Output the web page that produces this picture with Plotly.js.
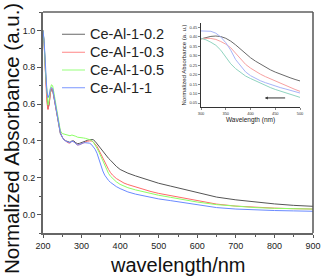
<!DOCTYPE html>
<html><head><meta charset="utf-8">
<script src="https://cdn.plot.ly/plotly-3.0.1.min.js"></script>
<style>html,body{margin:0;padding:0;background:#fff}#c{width:322px;height:277px}</style>
</head><body><div id="c"></div>
<script>
const seriesNames = ["Ce-Al-1-0.2","Ce-Al-1-0.3","Ce-Al-1-0.5","Ce-Al-1-1"];
const wavelength = [200,203,207,210,213,216,219,222,225,228,232,236,240,245,250,255,260,265,270,275,280,285,290,295,300,305,310,315,320,325,330,335,340,345,350,355,360,365,370,375,380,390,400,410,420,440,460,480,500,530,560,600,650,700,750,800,850,900];
const absGray = [1.0,0.93,0.75,0.62,0.575,0.60,0.66,0.68,0.675,0.64,0.59,0.54,0.49,0.44,0.42,0.405,0.40,0.395,0.392,0.40,0.40,0.39,0.385,0.387,0.39,0.395,0.40,0.403,0.407,0.408,0.407,0.398,0.385,0.37,0.355,0.34,0.328,0.315,0.305,0.295,0.283,0.262,0.245,0.233,0.225,0.21,0.196,0.185,0.17,0.155,0.14,0.118,0.095,0.08,0.068,0.058,0.05,0.045];
const absRed = [1.0,0.92,0.74,0.61,0.57,0.60,0.66,0.685,0.68,0.645,0.595,0.545,0.495,0.445,0.42,0.405,0.397,0.39,0.388,0.398,0.395,0.385,0.378,0.38,0.385,0.39,0.395,0.398,0.40,0.40,0.395,0.385,0.37,0.35,0.327,0.305,0.283,0.263,0.245,0.228,0.215,0.196,0.182,0.171,0.163,0.15,0.136,0.125,0.115,0.103,0.09,0.075,0.057,0.046,0.039,0.035,0.032,0.03];
const absGreen = [1.0,0.93,0.76,0.64,0.595,0.625,0.685,0.705,0.70,0.665,0.61,0.555,0.50,0.455,0.44,0.437,0.435,0.43,0.428,0.432,0.43,0.425,0.42,0.42,0.418,0.416,0.414,0.41,0.408,0.404,0.395,0.38,0.36,0.34,0.315,0.288,0.263,0.242,0.223,0.208,0.196,0.178,0.164,0.154,0.146,0.134,0.124,0.114,0.105,0.094,0.082,0.068,0.054,0.044,0.038,0.034,0.031,0.03];
const absBlue = [1.0,0.94,0.79,0.67,0.635,0.65,0.68,0.69,0.685,0.65,0.60,0.545,0.495,0.445,0.42,0.405,0.398,0.392,0.39,0.398,0.395,0.385,0.378,0.38,0.385,0.39,0.39,0.39,0.388,0.382,0.37,0.355,0.333,0.30,0.265,0.237,0.214,0.197,0.185,0.175,0.166,0.152,0.141,0.131,0.123,0.111,0.101,0.092,0.085,0.076,0.066,0.052,0.038,0.03,0.025,0.022,0.02,0.018];
const mainColors = ["#555555","#ff6a6a","#8cff66","#6a8aff"];
const legendColors = ["#808080","#ff9a9a","#a8ff90","#90a8ff"];

const insetWavelength = [300,310,320,330,340,350,360,370,380,390,400,410,420,430,440,450,460,470,480,490,500];
const insetGray = [0.39,0.398,0.403,0.405,0.402,0.393,0.378,0.358,0.335,0.31,0.29,0.272,0.256,0.24,0.226,0.214,0.203,0.193,0.184,0.175,0.167];
const insetRed = [0.39,0.393,0.392,0.387,0.376,0.362,0.343,0.315,0.285,0.255,0.235,0.218,0.203,0.19,0.178,0.166,0.155,0.144,0.133,0.122,0.112];
const insetBlue = [0.432,0.432,0.43,0.42,0.40,0.37,0.33,0.28,0.245,0.215,0.195,0.18,0.168,0.158,0.148,0.14,0.132,0.125,0.118,0.11,0.103];
const insetTeal = [0.393,0.385,0.372,0.356,0.33,0.295,0.258,0.232,0.212,0.193,0.18,0.167,0.155,0.142,0.132,0.122,0.113,0.105,0.097,0.088,0.08];
const insetColors = ["#6a6a6a","#f7a0a0","#a8b4f8","#90d4c0"];
const arrowFrom = [473, 0.077];
const arrowTo = [429, 0.077];

const mainSeries = [absGray, absRed, absGreen, absBlue];
const insetSeries = [insetGray, insetRed, insetBlue, insetTeal];

const traces = [];
mainSeries.forEach((s,i)=>traces.push({x:wavelength,y:s,type:'scatter',mode:'lines',line:{color:mainColors[i],width:1,shape:'linear'},name:seriesNames[i],showlegend:false,xaxis:'x',yaxis:'y'}));
insetSeries.forEach((s,i)=>traces.push({x:insetWavelength,y:s,type:'scatter',mode:'lines',line:{color:insetColors[i],width:1,shape:'linear'},showlegend:false,xaxis:'x2',yaxis:'y2'}));

const F = '"Liberation Sans", Arial, sans-serif';
const L=43,R=313,T=12,B=233;
const px=(x)=>(x-L)/(R-L), py=(y)=>(B-y)/(B-T);

const shapes = [
  {type:'line',xref:'paper',yref:'paper',x0:0,x1:1,y0:1,y1:1,line:{color:'#111',width:1}},
  {type:'line',xref:'paper',yref:'paper',x0:1,x1:1,y0:0,y1:1,line:{color:'#555',width:1.5}}
];
const annotations = [];
const legRows=[34.3,52.3,70,87.7];
seriesNames.forEach((n,i)=>{
  shapes.push({type:'line',xref:'paper',yref:'paper',x0:px(62),x1:px(85),y0:py(legRows[i]),y1:py(legRows[i]),line:{color:legendColors[i],width:1.2}});
  annotations.push({xref:'paper',yref:'paper',x:px(88),y:py(legRows[i]),text:n,showarrow:false,xanchor:'left',yanchor:'middle',font:{family:F,size:14.5,color:'#222'}});
});
annotations.push({xref:'paper',yref:'paper',x:px(11),y:py(139),text:'Normalized Absorbance (a.u.)',textangle:-90,showarrow:false,xanchor:'center',yanchor:'middle',font:{family:F,size:20.5,color:'#111'}});
annotations.push({xref:'paper',yref:'paper',x:px(178),y:py(265),text:'wavelength/nm',showarrow:false,xanchor:'center',yanchor:'middle',font:{family:F,size:20,color:'#111'}});
annotations.push({xref:'x2',yref:'y2',x:arrowTo[0],y:arrowTo[1],ax:arrowFrom[0],ay:arrowFrom[1],axref:'x2',ayref:'y2',showarrow:true,arrowhead:2,arrowsize:0.6,arrowwidth:1,arrowcolor:'#333',text:''});

const layout = {
  width:322,height:277,margin:{l:L,r:322-R,t:T,b:277-B},
  paper_bgcolor:'#fff',plot_bgcolor:'#fff',showlegend:false,
  xaxis:{range:[200,900],tickvals:[200,300,400,500,600,700,800,900],showgrid:false,zeroline:false,showline:true,linecolor:'#666',linewidth:2,ticks:'outside',ticklen:3,tickwidth:1,tickcolor:'#555',
    minor:{ticks:'outside',ticklen:2,tickwidth:1,tickcolor:'#555',dtick:50,tick0:0},
    tickfont:{family:F,size:9,color:'#222'}},
  yaxis:{range:[-0.1,1.1],tickvals:[0,0.2,0.4,0.6,0.8,1.0],ticktext:['0.0','0.2','0.4','0.6','0.8','1.0'],showgrid:false,zeroline:false,showline:true,linecolor:'#666',linewidth:2,ticks:'outside',ticklen:4,tickwidth:1,tickcolor:'#555',
    minor:{ticks:'outside',ticklen:2,tickwidth:1,tickcolor:'#555',dtick:0.1,tick0:0},
    tickfont:{family:F,size:9,color:'#222'}},
  xaxis2:{domain:[px(201),px(300)],anchor:'y2',range:[300,500],tickvals:[300,350,400,450,500],showgrid:false,zeroline:false,showline:true,linecolor:'#333',linewidth:1,ticks:'outside',ticklen:2,tickwidth:0.6,tickcolor:'#333',
    tickfont:{family:F,size:4,color:'#333'},title:{text:'Wavelength (nm)',font:{family:F,size:6.5,color:'#222'},standoff:2}},
  yaxis2:{domain:[py(107),py(23)],anchor:'x2',range:[0.029,0.474],tickvals:[0.05,0.1,0.15,0.2,0.25,0.3,0.35,0.4,0.45],ticktext:['0.05','0.10','0.15','0.20','0.25','0.30','0.35','0.40','0.45'],showgrid:false,zeroline:false,showline:true,linecolor:'#333',linewidth:1,ticks:'outside',ticklen:2,tickwidth:0.6,tickcolor:'#333',
    tickfont:{family:F,size:4,color:'#333'},title:{text:'Normalized Absorbance (a. u.)',font:{family:F,size:6,color:'#222'},standoff:2}},
  shapes:shapes,annotations:annotations
};
Plotly.newPlot('c',traces,layout,{staticPlot:true,displayModeBar:false});
</script></body></html>
